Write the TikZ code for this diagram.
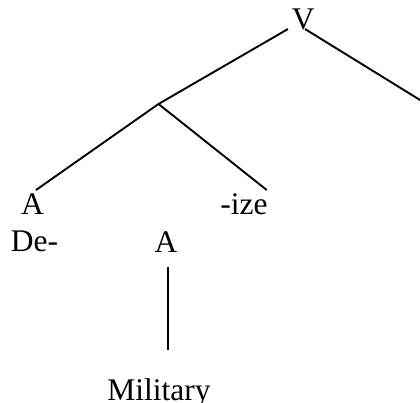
\documentclass[tikz,border=0pt]{standalone}
\usepackage{fontspec}
\setmainfont{Liberation Serif}
\begin{document}
\begin{tikzpicture}[x=1pt,y=1pt,
  lab/.style={anchor=base,inner sep=0pt,font=\fontsize{31.5}{36}\selectfont},
  branch/.style={line width=1.9pt}]
\useasboundingbox (0,0) rectangle (420,-403);
\node[lab] (V) at (303.3,-30) {V};
\node[lab] (A1) at (32.5,-215) {A};
\node[lab] (ize) at (244,-215) {-ize};
\node[lab] (De) at (34.5,-251.7) {De-};
\node[lab] (A2) at (166,-252) {A};
\node[lab] (Mil) at (159,-400) {Military};
\coordinate (j) at (158.5,-104);
\coordinate (R) at (421,-100.6);
\draw[branch] ([shift={(-15.3,1)}]V.base) -- (j);
\draw[branch] ([shift={(1.7,1)}]V.base) -- (R);
\draw[branch] (j) -- ([shift={(3.5,25)}]A1.base);
\draw[branch] (j) -- ([shift={(22.7,25)}]ize.base);
\draw[branch] ([shift={(2,-14.7)}]A2.base) -- ([shift={(2,-98)}]A2.base);
\end{tikzpicture}
\end{document}
